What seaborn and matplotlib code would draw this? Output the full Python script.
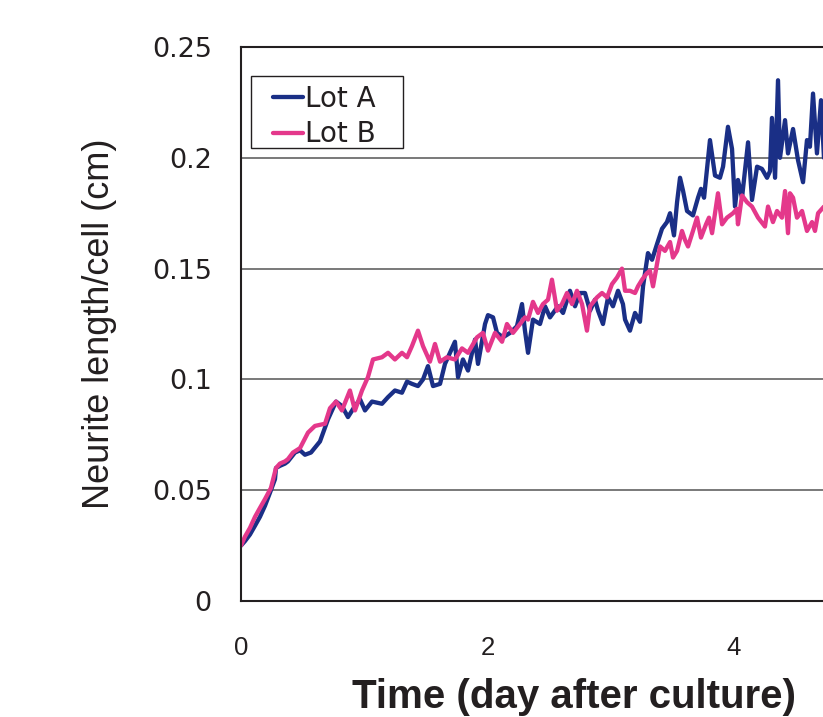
import matplotlib
matplotlib.use("Agg")
import matplotlib.pyplot as plt
import matplotlib.patches as mpatches
import seaborn as sns
import pandas as pd

# ---------------------------------------------
# Datos (dias, cm)
# ---------------------------------------------
time_a = [0, 0.032, 0.073, 0.114, 0.154, 0.195, 0.243, 0.276, 0.284, 0.316,
          0.357, 0.381, 0.438, 0.479, 0.519, 0.568, 0.641, 0.706, 0.771, 0.819,
          0.868, 0.925, 0.966, 1.006, 1.063, 1.144, 1.193, 1.249, 1.306, 1.347,
          1.387, 1.436, 1.477, 1.517, 1.558, 1.615, 1.655, 1.736, 1.761, 1.801,
          1.842, 1.899, 1.923, 1.980, 2.004, 2.045, 2.077, 2.126, 2.183, 2.239,
          2.280, 2.304, 2.329, 2.369, 2.426, 2.467, 2.507, 2.572, 2.613, 2.669,
          2.710, 2.751, 2.791, 2.832, 2.872, 2.897, 2.937, 2.978, 3.018, 3.059,
          3.099, 3.116, 3.156, 3.197, 3.237, 3.262, 3.302, 3.335, 3.375, 3.416,
          3.456, 3.481, 3.513, 3.538, 3.562, 3.587, 3.619, 3.667, 3.708, 3.732,
          3.757, 3.805, 3.846, 3.886, 3.911, 3.951, 3.984, 4.008, 4.032, 4.065,
          4.114, 4.146, 4.187, 4.227, 4.268, 4.292, 4.308, 4.333, 4.357, 4.373,
          4.414, 4.438, 4.479, 4.519, 4.560, 4.592, 4.616, 4.641, 4.673, 4.706,
          4.730]
length_a = [0.025, 0.027, 0.030, 0.034, 0.038, 0.043, 0.050, 0.055, 0.060, 0.061,
            0.062, 0.063, 0.067, 0.068, 0.066, 0.067, 0.072, 0.082, 0.090, 0.088,
            0.083, 0.088, 0.091, 0.086, 0.090, 0.089, 0.092, 0.095, 0.094, 0.099,
            0.098, 0.097, 0.100, 0.106, 0.097, 0.098, 0.107, 0.117, 0.101, 0.109,
            0.104, 0.118, 0.107, 0.125, 0.129, 0.128, 0.121, 0.119, 0.121, 0.124,
            0.134, 0.122, 0.112, 0.127, 0.125, 0.133, 0.128, 0.133, 0.130, 0.140,
            0.133, 0.139, 0.139, 0.131, 0.136, 0.131, 0.125, 0.137, 0.133, 0.140,
            0.134, 0.127, 0.122, 0.130, 0.126, 0.142, 0.157, 0.154, 0.161, 0.168,
            0.171, 0.175, 0.165, 0.180, 0.191, 0.185, 0.176, 0.174, 0.182, 0.186,
            0.182, 0.208, 0.192, 0.191, 0.196, 0.214, 0.204, 0.178, 0.190, 0.182,
            0.207, 0.181, 0.196, 0.195, 0.191, 0.194, 0.218, 0.191, 0.235, 0.200,
            0.217, 0.202, 0.213, 0.199, 0.189, 0.208, 0.205, 0.229, 0.202, 0.226,
            0.200]

time_b = [0, 0.032, 0.073, 0.114, 0.154, 0.195, 0.243, 0.284, 0.316, 0.357,
          0.381, 0.422, 0.479, 0.544, 0.600, 0.682, 0.722, 0.771, 0.819, 0.884,
          0.925, 0.982, 1.030, 1.071, 1.144, 1.193, 1.249, 1.306, 1.347, 1.387,
          1.436, 1.477, 1.533, 1.574, 1.615, 1.671, 1.736, 1.793, 1.842, 1.915,
          1.963, 2.004, 2.061, 2.118, 2.158, 2.207, 2.264, 2.304, 2.329, 2.369,
          2.410, 2.450, 2.491, 2.523, 2.564, 2.604, 2.645, 2.686, 2.726, 2.767,
          2.807, 2.832, 2.888, 2.929, 2.970, 3.010, 3.051, 3.091, 3.116, 3.156,
          3.197, 3.221, 3.254, 3.294, 3.318, 3.343, 3.375, 3.400, 3.440, 3.481,
          3.505, 3.538, 3.578, 3.602, 3.627, 3.667, 3.700, 3.732, 3.773, 3.797,
          3.822, 3.870, 3.903, 3.943, 3.992, 4.024, 4.032, 4.065, 4.105, 4.146,
          4.195, 4.251, 4.276, 4.316, 4.349, 4.389, 4.414, 4.438, 4.454, 4.479,
          4.511, 4.552, 4.592, 4.633, 4.657, 4.682, 4.730]
length_b = [0.025, 0.029, 0.033, 0.038, 0.042, 0.046, 0.051, 0.060, 0.062, 0.063,
            0.064, 0.067, 0.069, 0.076, 0.079, 0.080, 0.087, 0.090, 0.086, 0.095,
            0.086, 0.095, 0.101, 0.109, 0.110, 0.112, 0.109, 0.112, 0.110, 0.115,
            0.122, 0.115, 0.108, 0.116, 0.108, 0.110, 0.109, 0.114, 0.112, 0.119,
            0.121, 0.113, 0.121, 0.117, 0.125, 0.121, 0.125, 0.128, 0.127, 0.135,
            0.130, 0.134, 0.136, 0.145, 0.131, 0.134, 0.139, 0.134, 0.140, 0.134,
            0.122, 0.133, 0.137, 0.139, 0.137, 0.143, 0.146, 0.150, 0.140, 0.140,
            0.139, 0.142, 0.145, 0.148, 0.149, 0.142, 0.152, 0.160, 0.158, 0.162,
            0.155, 0.158, 0.167, 0.163, 0.160, 0.167, 0.173, 0.164, 0.170, 0.173,
            0.166, 0.184, 0.170, 0.173, 0.175, 0.177, 0.170, 0.183, 0.180, 0.178,
            0.173, 0.169, 0.178, 0.171, 0.176, 0.173, 0.185, 0.166, 0.184, 0.182,
            0.173, 0.176, 0.167, 0.171, 0.167, 0.175, 0.178]

lots = ["Lot A", "Lot B"]
colors = {"Lot A": "#1a2f86", "Lot B": "#e4388b"}

y_ticks = [0, 0.05, 0.1, 0.15, 0.2, 0.25]
y_tick_labels = ["0", "0.05", "0.1", "0.15", "0.2", "0.25"]
x_ticks = [0, 2, 4]
x_tick_labels = ["0", "2", "4"]

df = pd.concat([
    pd.DataFrame({"time": time_a, "length": length_a, "lot": lots[0]}),
    pd.DataFrame({"time": time_b, "length": length_b, "lot": lots[1]}),
], ignore_index=True)

sns.set_theme(style="white")
plt.rcParams["font.family"] = ["DejaVu Sans"]
arial = ["Liberation Sans", "DejaVu Sans"]
ink = "#231f20"

fig = plt.figure(figsize=(8.23, 7.17), dpi=100)
ax = fig.add_axes([0.2928, 0.1618, 0.7072, 0.7726])

sns.lineplot(data=df, x="time", y="length", hue="lot", palette=colors,
             estimator=None, sort=False, linewidth=3.1, ax=ax)

ax.set_xlim(0, 4.722)
ax.set_ylim(0, 0.25)

# rejilla horizontal
for v in y_ticks[1:-1]:
    ax.axhline(v, color="#555555", linewidth=1.1, zorder=0)

ax.set_yticks(y_ticks)
ax.set_yticklabels(y_tick_labels, fontsize=19.5)
ax.set_xticks(x_ticks)
ax.set_xticklabels(x_tick_labels, fontsize=18.5, family=arial)
ax.tick_params(axis="y", direction="in", length=5, width=1.2, pad=21, colors=ink)
ax.tick_params(axis="x", direction="in", length=5, width=1.0, pad=25, colors=ink)

for side in ["left", "bottom", "top"]:
    ax.spines[side].set_color(ink)
    ax.spines[side].set_linewidth(1.5)
ax.spines["right"].set_visible(False)

ax.set_xlabel("Time (day after culture)", fontsize=29, fontweight="bold",
              family=arial, color=ink)
ax.xaxis.set_label_coords(0.573, -0.139)
ax.set_ylabel("Neurite length/cell (cm)", fontsize=26, family=arial, color=ink)
ax.yaxis.set_label_coords(-0.213, 0.5)

# leyenda: marco dibujado aparte para controlar los margenes
handles, labels = ax.get_legend_handles_labels()
for h in handles:
    h.set_linewidth(3.1)
leg = ax.legend(handles, labels, loc="upper left", bbox_to_anchor=(0.055, 0.9314),
                borderaxespad=0, borderpad=0, fontsize=20, frameon=False,
                labelspacing=0.26, handlelength=1.08, handletextpad=0.08)
for t in leg.get_texts():
    t.set_color(ink)
ax.add_patch(mpatches.Rectangle((0.0172, 0.8177), 0.2612, 0.130, transform=ax.transAxes,
                                fill=False, edgecolor=ink, linewidth=1.0, zorder=5))

fig.savefig("out.png", dpi=100, facecolor="white")
